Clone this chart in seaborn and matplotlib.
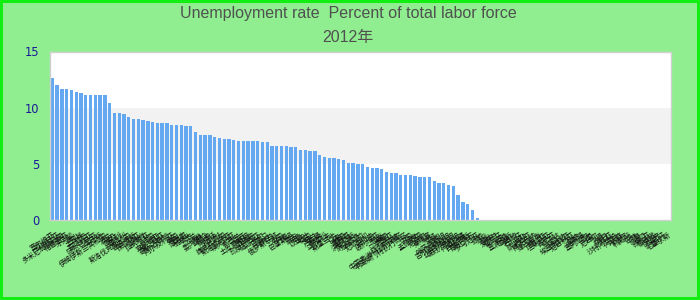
import matplotlib
matplotlib.use("Agg")
import matplotlib.pyplot as plt
import seaborn as sns
import pandas as pd

title_line1 = "Unemployment rate  Percent of total labor force"
title_line2 = "2012年"

countries = [
    "塞尔维亚", "亚美尼亚", "多米尼加共和国", "格鲁吉亚", "牙买加", "黑山", "土耳其", "约旦", "哥伦比亚", "阿尔巴尼亚",
    "突尼斯", "伊朗伊斯兰共和国", "波兰", "埃及", "匈牙利", "意大利", "斯洛伐克共和国", "巴巴多斯", "保加利亚", "立陶宛",
    "拉脱维亚", "法国", "克罗地亚", "爱沙尼亚", "哥斯达黎加", "阿尔及利亚", "美国", "智利", "摩洛哥", "加拿大",
    "芬兰", "瑞典", "委内瑞拉", "乌拉圭", "阿根廷", "比利时", "捷克共和国", "斯洛文尼亚", "澳大利亚", "新西兰",
    "巴西", "土库曼斯坦", "菲律宾", "印度尼西亚", "厄瓜多尔", "巴拿马", "乌克兰", "俄罗斯联邦", "英国", "丹麦",
    "巴基斯坦", "蒙古", "秘鲁", "以色列", "德国", "荷兰", "卢森堡", "奥地利", "马尔代夫", "斯里兰卡",
    "日本", "韩国", "墨西哥", "洪都拉斯", "萨尔瓦多", "危地马拉", "尼加拉瓜", "巴拉圭", "玻利维亚", "越南",
    "泰国", "马来西亚", "新加坡", "中国香港特别行政区", "中国澳门特别行政区", "中国", "印度", "孟加拉国", "尼泊尔", "柬埔寨",
    "老挝", "缅甸", "哈萨克斯坦", "吉尔吉斯斯坦", "塔吉克斯坦", "乌兹别克斯坦", "阿塞拜疆", "白俄罗斯", "摩尔多瓦", "罗马尼亚",
    "挪威", "冰岛", "瑞士", "爱尔兰", "葡萄牙", "希腊", "塞浦路斯", "马耳他", "西班牙", "南非",
    "纳米比亚", "博茨瓦纳", "津巴布韦", "赞比亚", "坦桑尼亚", "肯尼亚", "乌干达", "卢旺达", "埃塞俄比亚", "尼日利亚",
    "加纳", "喀麦隆", "塞内加尔", "马里", "尼日尔", "乍得", "苏丹", "利比亚", "沙特阿拉伯", "阿联酋",
    "卡塔尔", "科威特", "巴林", "阿曼", "也门", "叙利亚", "黎巴嫩", "伊拉克", "阿富汗", "毛里求斯",
]

rates = [
    12.6, 12.0, 11.7, 11.7, 11.6, 11.4, 11.3, 11.1, 11.1, 11.1,
    11.1, 11.1, 10.4, 9.5, 9.5, 9.4, 9.2, 9.0, 9.0, 8.9,
    8.8, 8.7, 8.6, 8.6, 8.6, 8.5, 8.5, 8.5, 8.4, 8.4,
    7.8, 7.6, 7.6, 7.6, 7.4, 7.3, 7.2, 7.2, 7.1, 7.0,
    7.0, 7.0, 7.0, 7.0, 6.9, 6.9, 6.6, 6.6, 6.6, 6.6,
    6.5, 6.5, 6.2, 6.2, 6.1, 6.1, 5.8, 5.6, 5.5, 5.5,
    5.4, 5.3, 5.1, 5.1, 5.0, 5.0, 4.7, 4.6, 4.6, 4.5,
    4.3, 4.2, 4.2, 4.0, 4.0, 4.0, 3.9, 3.8, 3.8, 3.8,
    3.5, 3.3, 3.3, 3.1, 3.0, 2.2, 1.6, 1.4, 0.9, 0.2,
] + [0.0] * 40

y_ticks = [0, 5, 10, 15]

df = pd.DataFrame({"country": countries, "rate": rates})

sns.set_style("white")
plt.rcParams["font.family"] = ["DejaVu Sans", "Noto Sans CJK SC"]

bg = "#90ee90"
fig = plt.figure(figsize=(7, 3), dpi=100, facecolor=bg)
ax = fig.add_axes([50 / 700, 1 - 220 / 300, 620.5 / 700, 168.5 / 300])
ax.set_facecolor("white")

# alternating band between ticks
ax.axhspan(y_ticks[1], y_ticks[2], color="#f2f2f2", zorder=0, lw=0)

sns.barplot(data=df, x="country", y="rate", color="#64a8f2", saturation=1,
            width=0.7, linewidth=0, edgecolor="none", ax=ax, zorder=2)

ax.set_ylim(y_ticks[0], y_ticks[-1])
ax.set_yticks(y_ticks)
ax.set_xlabel("")
ax.set_ylabel("")
ax.tick_params(axis="y", length=0, pad=7.5, labelsize=8.3, labelcolor="#1a1a99")
ax.tick_params(axis="x", length=0, pad=8)
for lbl in ax.get_xticklabels():
    lbl.set_rotation(33)
    lbl.set_ha("right")
    lbl.set_rotation_mode("anchor")
    lbl.set_fontsize(5)
    lbl.set_color("#111111")
    lbl.set_family(["Noto Sans CJK SC", "DejaVu Sans"])

for sp in ax.spines.values():
    sp.set_visible(True)
    sp.set_color("#d0d0d0")
    sp.set_linewidth(1)

fig.text(348 / 700, 1 - 18 / 300, title_line1, ha="center", va="baseline",
         fontsize=11.5, color="#505050", family=["Liberation Sans", "Noto Sans CJK SC"])
fig.text(348 / 700, 1 - 42 / 300, title_line2, ha="center", va="baseline",
         fontsize=11.5, color="#505050", family=["Liberation Sans", "Noto Sans CJK SC"])

fig.patch.set_edgecolor("#11ee11")
fig.patch.set_linewidth(3)
fig.savefig("out.png", dpi=100, facecolor=bg, edgecolor="#11ee11")
